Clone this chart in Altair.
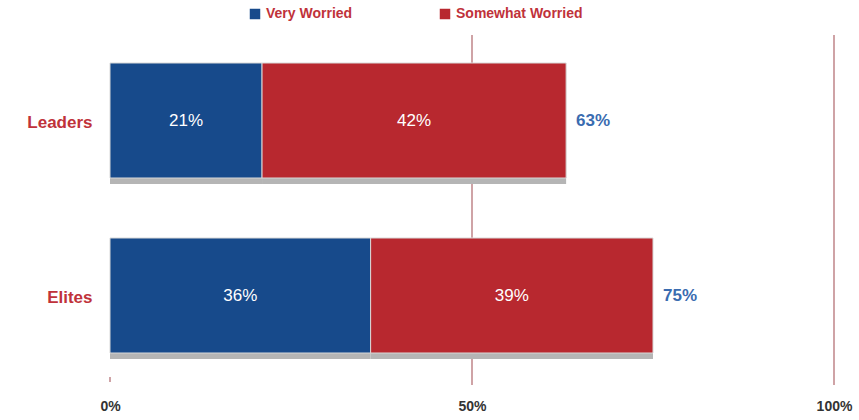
import altair as alt
import pandas as pd

groups = ["Leaders", "Elites"]
very_worried = [21, 36]
somewhat_worried = [42, 39]
series_names = ["Very Worried", "Somewhat Worried"]
tick_values = [0, 50, 100]
grid_values = [50, 100]

rows = []
for g, v, s in zip(groups, very_worried, somewhat_worried):
    rows.append({"group": g, "series": series_names[0], "start": 0, "end": v, "value": v, "order": 0})
    rows.append({"group": g, "series": series_names[1], "start": v, "end": v + s, "value": s, "order": 1})
df = pd.DataFrame(rows)
df["mid"] = (df["start"] + df["end"]) / 2
df["label"] = df["value"].astype(str) + "%"

tot = pd.DataFrame({"group": groups, "total": [v + s for v, s in zip(very_worried, somewhat_worried)]})
tot["label"] = tot["total"].astype(str) + "%"

grid = pd.DataFrame({"x": grid_values})

BLUE = "#174a8b"
RED = "#b8282f"
TEXTRED = "#c0323a"
FONT = "Liberation Sans"

xscale = alt.Scale(domain=[0, 100], nice=False, zero=True)
yscale = alt.Scale(domain=groups, paddingInner=0, paddingOuter=0)

yenc = alt.Y("group:N", scale=yscale, sort=groups,
             axis=alt.Axis(title=None, domain=False, ticks=False, grid=False, labelPadding=18,
                           labelFontSize=17, labelFontWeight="bold", labelColor=TEXTRED,
                           labelFont=FONT))

xaxis = alt.Axis(title=None, values=tick_values, format="d",
                 labelExpr="datum.value + '%'", domain=False, ticks=False,
                 grid=False, labelPadding=14, labelFontSize=14, labelFlush=False,
                 labelFontWeight="bold", labelColor="#333333", labelFont=FONT)

rules = alt.Chart(grid).mark_rule(color="#cfa3a6", strokeWidth=2).encode(
    x=alt.X("x:Q", scale=xscale, axis=xaxis),
    y=alt.value(0), y2=alt.value(350)
)

zero_tick = alt.Chart(pd.DataFrame({"x": [0]})).mark_rule(color="#cfa3a6", strokeWidth=2).encode(
    x=alt.X("x:Q", scale=xscale), y=alt.value(342), y2=alt.value(347)
)

shadow = alt.Chart(df).mark_bar(size=115, color="#b5b5b5", yOffset=4).encode(
    x=alt.X("start:Q", scale=xscale), x2="end:Q", y=yenc
)

bars = alt.Chart(df).mark_bar(size=115, stroke="#d8d8d8", strokeWidth=1, yOffset=-2).encode(
    x=alt.X("start:Q", scale=xscale),
    x2="end:Q",
    y=yenc,
    color=alt.Color("series:N", sort=series_names,
                    scale=alt.Scale(domain=series_names, range=[BLUE, RED]),
                    legend=alt.Legend(title=None, orient="none", legendX=138, legendY=-28,
                                      direction="horizontal", symbolType="square",
                                      symbolSize=110, columnPadding=85,
                                      labelFontSize=14, labelFontWeight="bold",
                                      labelColor=TEXTRED, labelFont=FONT,
                                      symbolStrokeWidth=0))
)

inner = alt.Chart(df).mark_text(color="white", fontSize=17, font=FONT, dy=-2).encode(
    x=alt.X("mid:Q", scale=xscale), y=alt.Y("group:N", scale=yscale, sort=groups), text="label:N"
)

totals = alt.Chart(tot).mark_text(color="#3a6cb0", fontSize=17, fontWeight="bold",
                                  align="left", dx=10, dy=-2, font=FONT).encode(
    x=alt.X("total:Q", scale=xscale), y=alt.Y("group:N", scale=yscale, sort=groups), text="label:N"
)

chart = alt.layer(rules, zero_tick, shadow, bars, inner, totals).properties(
    width=724, height=350,
    background="white",
    autosize=alt.AutoSizeParams(type="none"),
    padding={"left": 110, "top": 35, "right": 25, "bottom": 35}
).configure_view(strokeWidth=0, stroke="transparent"
).configure_axis(grid=False, domain=False, ticks=False)

chart.save("out.html", embed_options={"renderer": "svg", "actions": False})
